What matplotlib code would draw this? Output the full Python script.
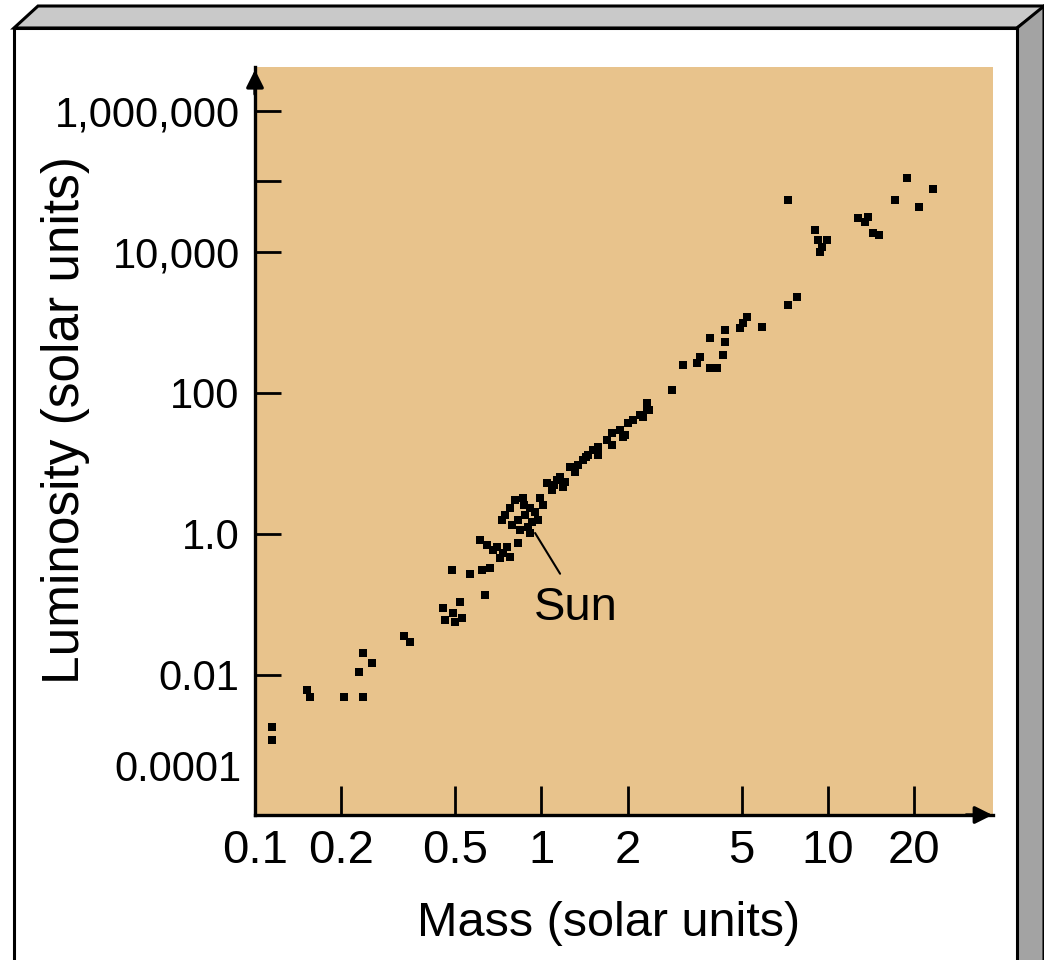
import matplotlib
matplotlib.use("Agg")
import matplotlib.pyplot as plt
from matplotlib.patches import Polygon
from matplotlib.ticker import NullLocator

plt.rcParams['font.family'] = ['Liberation Sans', 'DejaVu Sans']

# star masses (solar units)
mass = [0.115, 0.115, 0.152, 0.156, 0.205, 0.238, 0.231, 0.238, 0.256, 0.331, 0.347,
        0.487, 0.562, 0.62, 0.66, 0.636, 0.52, 0.453, 0.49, 0.528, 0.46, 0.50,
        0.61, 0.645, 0.70, 0.735, 0.777, 0.83, 0.76, 0.68, 0.716,
        0.862, 0.746, 0.789, 0.828, 0.875, 0.912, 0.949, 0.841, 0.897, 0.972, 1.01, 0.777, 0.912,
        0.73, 0.81, 0.87, 0.99, 0.93,
        1.045, 1.088, 1.16, 1.21, 1.26, 1.31, 1.40, 1.45, 1.51, 1.57, 1.69, 1.76, 1.88, 1.95,
        2.08, 2.21, 2.34, 2.26, 1.92, 1.11, 1.34,
        1.13, 1.19, 1.43, 1.58, 1.77, 2.0, 2.37, 2.34,
        2.85, 3.12, 3.49, 3.57, 3.87, 4.10, 3.87, 4.37, 4.37, 4.30, 5.05, 5.21, 4.93, 5.89,
        7.25, 7.79, 7.25, 9.02, 9.23, 9.53, 9.38, 9.93, 12.7, 13.5, 13.8, 14.4, 15.1,
        17.1, 18.9, 20.8, 23.2]

# star luminosities (solar units)
lum = [0.0018, 0.0012, 0.0062, 0.0049, 0.0049, 0.0049, 0.011, 0.0205, 0.0148, 0.036, 0.0295,
       0.31, 0.27, 0.31, 0.33, 0.136, 0.108, 0.089, 0.076, 0.064, 0.060, 0.056,
       0.82, 0.70, 0.65, 0.54, 0.47, 0.745, 0.65, 0.59, 0.46,
       3.24, 1.86, 1.34, 1.58, 1.86, 2.34, 2.05, 1.14, 1.26, 1.58, 2.58, 2.34, 1.03,
       1.58, 3.0, 2.58, 3.24, 1.48,
       5.29, 4.21, 6.44, 5.47, 8.9, 7.6, 11.2, 13.2, 15.5, 13.2, 21.5, 18.3, 29.9, 25.4,
       41.4, 48.7, 57.4, 45.7, 23.8, 4.95, 9.5,
       5.8, 4.6, 12.4, 17.1, 27, 37, 57, 72,
       110, 250, 268, 324, 226, 226, 603, 528, 780, 347, 980, 1200, 835, 870,
       1780, 2290, 55000, 20500, 14800, 11800, 10000, 14800, 30300, 26700, 31600, 18600, 17400,
       55000, 112000, 44000, 78000]

x_ticks = [0.1, 0.2, 0.5, 1, 2, 5, 10, 20]
x_labels = ['0.1', '0.2', '0.5', '1', '2', '5', '10', '20']
y_ticks = [1e6, 1e5, 1e4, 1e2, 1, 1e-2]
y_labels = ['1,000,000', '', '10,000', '100', '1.0', '0.01']

sun = (0.95, 1.03)
W, H = 1044, 960


def px(x, y):
    # image pixels -> figure fraction
    return (x / W, 1 - y / H)


fig = plt.figure(figsize=(W / 100, H / 100), dpi=100)

# box frame drawn around the chart
frame_kw = dict(transform=fig.transFigure, closed=True, edgecolor='black', linewidth=2.2, zorder=-1)
fig.add_artist(Polygon([px(14, 28), px(38, 6), px(1044, 6), px(1044, 8), px(1017, 28)],
                       facecolor='#c9c9c9', **frame_kw))
fig.add_artist(Polygon([px(1017, 28), px(1044, 6), px(1044, 975), px(1017, 975)],
                       facecolor='#a3a3a3', **frame_kw))
fig.add_artist(Polygon([px(14, 28), px(1017, 28), px(1017, 975), px(14, 975)],
                       facecolor='white', **frame_kw))

ax = fig.add_axes([255 / W, 1 - 815 / H, 738 / W, 748 / H])
ax.set_facecolor('#e8c38c')
ax.set_xscale('log')
ax.set_yscale('log')
ax.set_xlim(0.1, 37.7)
ax.set_ylim(1.03e-4, 4.2e6)

ax.scatter(mass, lum, s=28, marker='s', c='black', linewidths=0, zorder=3)

for side in ['top', 'right']:
    ax.spines[side].set_visible(False)
for side in ['left', 'bottom']:
    ax.spines[side].set_linewidth(2.4)

ax.set_xticks(x_ticks)
ax.set_xticklabels(x_labels, fontsize=34)
ax.set_yticks(y_ticks)
ax.set_yticklabels(y_labels, fontsize=30)
ax.xaxis.set_minor_locator(NullLocator())
ax.yaxis.set_minor_locator(NullLocator())
ax.tick_params(axis='x', direction='in', length=21, width=2, pad=10)
ax.tick_params(axis='y', direction='in', length=19, width=2, pad=11)

# bottom label sits above the axis end in the original
ax.text(-0.018, 10 ** -3.35, '0.0001', fontsize=30, ha='right', va='center',
        transform=ax.get_yaxis_transform())

# axis arrows
arrow = dict(arrowstyle='-|>', color='black', lw=2.4, mutation_scale=26)
ax.annotate('', xy=(0, 1.0), xytext=(0, 0.96), xycoords='axes fraction', arrowprops=arrow)
ax.annotate('', xy=(1.003, 0), xytext=(0.96, 0), xycoords='axes fraction', arrowprops=arrow)

ax.annotate('Sun', xy=sun, xytext=(1.32, 0.089), fontsize=34, ha='center', va='center',
            arrowprops=dict(arrowstyle='-', lw=1.5, color='black', relpos=(0.4, 1.0),
                            shrinkA=8, shrinkB=0))

fig.text(*px(609, 923), 'Mass (solar units)', fontsize=35, ha='center', va='center')
fig.text(*px(66, 420), 'Luminosity (solar units)', fontsize=37, ha='center', va='center',
         rotation=90)

fig.savefig('out.png', dpi=100)
